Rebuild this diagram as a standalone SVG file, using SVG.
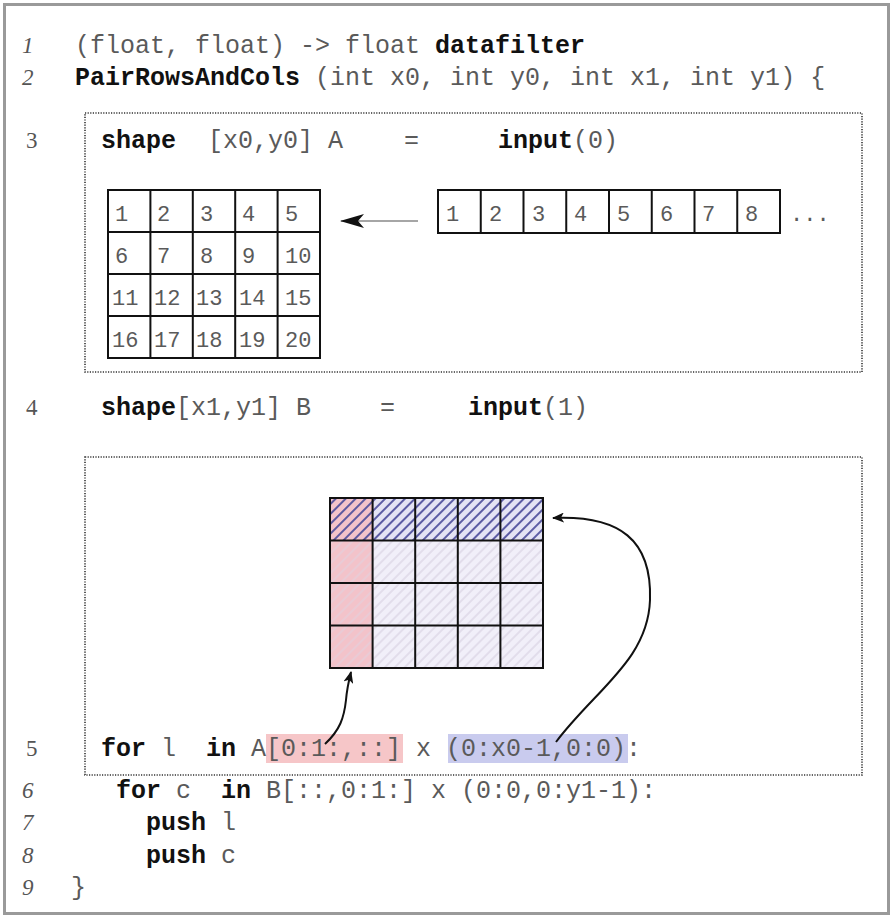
<svg xmlns="http://www.w3.org/2000/svg" width="893" height="917" viewBox="0 0 893 917">
<style>
text{white-space:pre}
.code{font-family:"Liberation Mono","Courier New",monospace;font-size:25px;fill:#5a5a5a}
.kw{font-weight:bold;fill:#111}
.ln{font-family:"Liberation Serif","Times New Roman",serif;font-size:23px;fill:#555}
.it{font-style:italic}
.cell{font-family:"Liberation Mono","Courier New",monospace;font-size:22px;fill:#5a5a5a}
.grid{fill:none;stroke:#111;stroke-width:2}
.dotbox{fill:none;stroke:#333;stroke-width:1.6;stroke-dasharray:1.2 1.4}
.conn{fill:none;stroke:#111;stroke-width:2}
</style>
<defs>
<pattern id="hatchDark" width="7" height="10" patternUnits="userSpaceOnUse" patternTransform="rotate(45)">
<line x1="2" y1="0" x2="2" y2="10" stroke="#3a3a90" stroke-width="1.6"/>
</pattern>
<pattern id="hatchLight" width="7" height="10" patternUnits="userSpaceOnUse" patternTransform="rotate(45)">
<line x1="2" y1="0" x2="2" y2="10" stroke="#dcd6e6" stroke-width="1.4"/>
</pattern>
<marker id="arrowHead" viewBox="0 0 12 10" refX="11" refY="5" markerWidth="12" markerHeight="10" markerUnits="userSpaceOnUse" orient="auto">
<path d="M0,0 L12,5 L0,10 L3,5 Z" fill="#111"/>
</marker>
<marker id="arrowBig" viewBox="0 0 24 14" refX="23" refY="7" markerWidth="24" markerHeight="14" markerUnits="userSpaceOnUse" orient="auto">
<path d="M0,0 L24,7 L0,14 L6,7 Z" fill="#111"/>
</marker>
</defs>
<rect x="0" y="0" width="893" height="917" fill="#fff"/>
<rect id="frame" x="4.5" y="4.5" width="884" height="909" fill="none" stroke="#9a9a9a" stroke-width="3"/>

<g id="line1">
<text class="ln it" x="22" y="53">1</text>
<text class="code" x="75" y="53">(float, float) -&gt; float <tspan class="kw">datafilter</tspan></text>
</g>
<g id="line2">
<text class="ln it" x="22" y="85">2</text>
<text class="code" x="75" y="85"><tspan class="kw">PairRowsAndCols</tspan> (int x0, int y0, int x1, int y1) {</text>
</g>

<g id="boxA">
<rect class="dotbox" x="85" y="113" width="777" height="259"/>
<text class="ln" x="26" y="148">3</text>
<text class="code kw" x="101" y="148">shape</text>
<text class="code" x="208" y="148">[x0,y0] A</text>
<text class="code" x="404" y="148">=</text>
<text class="code kw" x="498" y="148">input<tspan style="font-weight:normal;fill:#5a5a5a">(0)</tspan></text>
</g>

<g id="matrixA">
<rect class="grid" x="108" y="190" width="212" height="168"/>
<path class="grid" d="M150.4,190V358M192.8,190V358M235.2,190V358M277.6,190V358M108,232H320M108,274H320M108,316H320"/>
<text class="cell" x="115" y="221">1</text><text class="cell" x="157" y="221">2</text><text class="cell" x="200" y="221">3</text><text class="cell" x="242" y="221">4</text><text class="cell" x="285" y="221">5</text>
<text class="cell" x="115" y="263">6</text><text class="cell" x="157" y="263">7</text><text class="cell" x="200" y="263">8</text><text class="cell" x="242" y="263">9</text><text class="cell" x="285" y="263">10</text>
<text class="cell" x="112" y="305">11</text><text class="cell" x="154" y="305">12</text><text class="cell" x="196" y="305">13</text><text class="cell" x="239" y="305">14</text><text class="cell" x="285" y="305">15</text>
<text class="cell" x="112" y="347">16</text><text class="cell" x="154" y="347">17</text><text class="cell" x="196" y="347">18</text><text class="cell" x="239" y="347">19</text><text class="cell" x="285" y="347">20</text>
</g>

<g id="array1D">
<rect class="grid" x="438" y="190" width="342" height="43"/>
<path class="grid" d="M480.75,190V233M523.5,190V233M566.25,190V233M609,190V233M651.75,190V233M694.5,190V233M737.25,190V233"/>
<text class="cell" x="446" y="221">1</text><text class="cell" x="489" y="221">2</text><text class="cell" x="532" y="221">3</text><text class="cell" x="574" y="221">4</text><text class="cell" x="617" y="221">5</text><text class="cell" x="660" y="221">6</text><text class="cell" x="702" y="221">7</text><text class="cell" x="745" y="221">8</text>
<text class="cell" x="790" y="221">...</text>
</g>

<g id="line4">
<text class="ln" x="26" y="415">4</text>
<text class="code" x="101" y="415"><tspan class="kw">shape</tspan>[x1,y1] B</text>
<text class="code" x="380" y="415">=</text>
<text class="code kw" x="468" y="415">input<tspan style="font-weight:normal;fill:#5a5a5a">(1)</tspan></text>
</g>

<g id="boxB">
<rect class="dotbox" x="85" y="457" width="777" height="318"/>
</g>

<g id="matrixB">
<rect x="330" y="498" width="213" height="170" fill="#f1eff9"/>
<rect x="330" y="498" width="213" height="170" fill="url(#hatchLight)"/>
<rect x="330" y="498" width="42.6" height="170" fill="#f3c3ca"/>
<rect x="330" y="498" width="42.6" height="170" fill="url(#hatchLight)" opacity="0.6"/>
<rect x="372.6" y="498" width="170.4" height="42.5" fill="#e4e3f4"/>
<rect x="330" y="498" width="213" height="42.5" fill="url(#hatchDark)"/>
<rect class="grid" x="330" y="498" width="213" height="170"/>
<path class="grid" d="M372.6,498V668M415.2,498V668M457.8,498V668M500.4,498V668M330,540.5H543M330,583H543M330,625.5H543"/>
</g>

<g id="line5">
<rect x="266" y="734" width="137" height="29" fill="#f6c6c8"/>
<rect x="448" y="734" width="180" height="29" fill="#c9cbee"/>
<text class="ln" x="26" y="756">5</text>
<text class="code" x="101" y="756"><tspan class="kw">for</tspan> l  <tspan class="kw">in</tspan> A[0:1:,::] x (0:x0-1,0:0):</text>
</g>
<g id="line6">
<text class="ln it" x="22" y="798">6</text>
<text class="code" x="116" y="798"><tspan class="kw">for</tspan> c  <tspan class="kw">in</tspan> B[::,0:1:] x (0:0,0:y1-1):</text>
</g>
<g id="line7">
<text class="ln it" x="22" y="830">7</text>
<text class="code" x="146" y="830"><tspan class="kw">push</tspan> l</text>
</g>
<g id="line8">
<text class="ln it" x="22" y="863">8</text>
<text class="code" x="146" y="863"><tspan class="kw">push</tspan> c</text>
</g>
<g id="line9">
<text class="ln it" x="22" y="895">9</text>
<text class="code" x="71" y="895">}</text>
</g>

<g id="connectors">
<line x1="418" y1="221" x2="341" y2="221" stroke="#888" stroke-width="1.5" marker-end="url(#arrowBig)"/>
<path class="conn" d="M325,744 C340,730 344,718 346,700 C347,688 349,680 351,672" marker-end="url(#arrowHead)"/>
<path class="conn" d="M556,742 C595,690 648,660 650,600 C652,540 620,515 553,518" marker-end="url(#arrowHead)"/>
</g>
</svg>
